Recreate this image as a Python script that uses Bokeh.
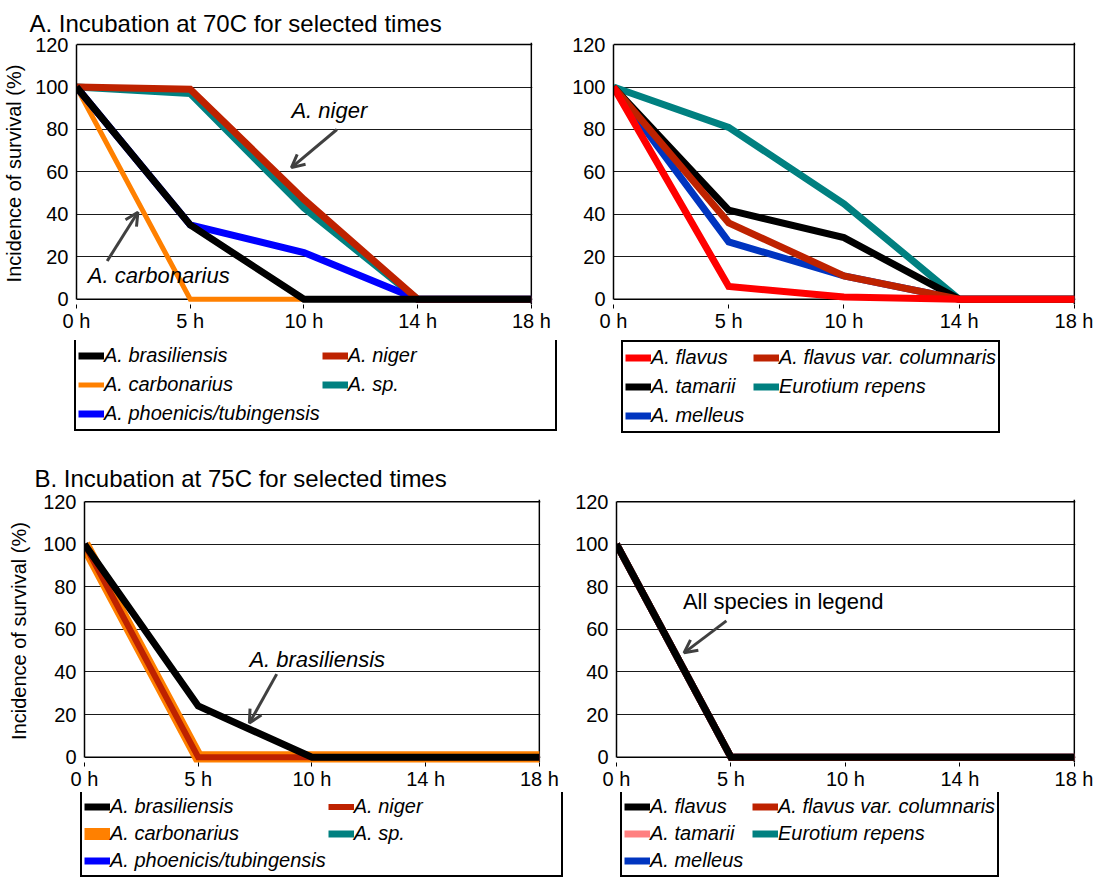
from bokeh.plotting import figure
from bokeh.models import (Range1d, FixedTicker, Span, Legend, LegendItem, Label,
                          Arrow, OpenHead)
from bokeh.layouts import column, row
from bokeh.embed import file_html
from bokeh.resources import INLINE

FONT = "Liberation Sans"

# ---------------- data ----------------
times = ["0 h", "5 h", "10 h", "14 h", "18 h"]
yticks = [0, 20, 40, 60, 80, 100, 120]
grid_ticks = [20, 40, 60, 80, 100]

# A. 70C, left panel
a70_brasiliensis = [100, 35, 0, 0, 0]
a70_niger = [100, 99, 47, 0, 0]
a70_carbonarius = [100, 0, 0, 0, 0]
a70_sp = [100, 97, 43, 0, 0]
a70_phoenicis = [100, 35, 22, 0, 0]

# A. 70C, right panel
a70_flavus = [100, 6, 1, 0, 0]
a70_columnaris = [100, 36, 11, 0, 0]
a70_tamarii = [100, 42, 29, 0, 0]
a70_eurotium = [100, 81, 45, 0, 0]
a70_melleus = [100, 27, 11, 0, 0]

# B. 75C, left panel
b75_brasiliensis = [100, 24, 0, 0, 0]
b75_niger = [100, 0, 0, 0, 0]
b75_carbonarius = [100, 0, 0, 0, 0]
b75_sp = [100, 0, 0, 0, 0]
b75_phoenicis = [100, 0, 0, 0, 0]

# B. 75C, right panel
b75_flavus = [100, 0, 0, 0, 0]
b75_columnaris = [100, 0, 0, 0, 0]
b75_tamarii = [100, 0, 0, 0, 0]
b75_eurotium = [100, 0, 0, 0, 0]
b75_melleus = [100, 0, 0, 0, 0]

# annotations: text, text x, text y, arrow start x, start y, end x, end y
note_a70_niger = ["A. niger", 1.89, 89, 2.29, 80, 1.89, 62]
note_a70_carb = ["A. carbonarius", 0.10, 11, 0.27, 18, 0.54, 41]
note_b75_bras = ["A. brasiliensis", 1.45, 46, 1.69, 39, 1.45, 16]
note_b75_all = ["All species in legend", 0.58, 73, 0.96, 64, 0.59, 49]

titles = ["A. Incubation at 70C for selected times", "B. Incubation at 75C for selected times"]
ylabel = "Incidence of survival (%)"

BLACK = "#000000"
DKRED = "#BE2200"
ORANGE = "#FF8000"
TEAL = "#008080"
BLUE = "#0000FF"
RED = "#FF0000"
MBLUE = "#0035C0"
PINK = "#FF8080"

# series per panel in drawing order: (label, values, colour, width)
series_a70_left = [("A. carbonarius", a70_carbonarius, ORANGE, 5),
                   ("A. sp.", a70_sp, TEAL, 7),
                   ("A. phoenicis/tubingensis", a70_phoenicis, BLUE, 7),
                   ("A. niger", a70_niger, DKRED, 7),
                   ("A. brasiliensis", a70_brasiliensis, BLACK, 7)]
series_a70_right = [("Eurotium repens", a70_eurotium, TEAL, 7),
                    ("A. melleus", a70_melleus, MBLUE, 7),
                    ("A. tamarii", a70_tamarii, BLACK, 7),
                    ("A. flavus var. columnaris", a70_columnaris, DKRED, 7),
                    ("A. flavus", a70_flavus, RED, 7)]
series_b75_left = [("A. sp.", b75_sp, TEAL, 7),
                   ("A. phoenicis/tubingensis", b75_phoenicis, BLUE, 7),
                   ("A. carbonarius", b75_carbonarius, ORANGE, 12),
                   ("A. niger", b75_niger, DKRED, 6),
                   ("A. brasiliensis", b75_brasiliensis, BLACK, 7)]
series_b75_right = [("Eurotium repens", b75_eurotium, TEAL, 7),
                    ("A. melleus", b75_melleus, MBLUE, 7),
                    ("A. tamarii", b75_tamarii, PINK, 7),
                    ("A. flavus var. columnaris", b75_columnaris, DKRED, 7),
                    ("A. flavus", b75_flavus, BLACK, 7)]

# legend order (legend fills column by column: 3 rows x 2 columns)
legend_left = ["A. brasiliensis", "A. carbonarius", "A. phoenicis/tubingensis",
               "A. niger", "A. sp."]
legend_right = ["A. flavus", "A. tamarii", "A. melleus",
                "A. flavus var. columnaris", "Eurotium repens"]

x_idx = list(range(len(times)))
Y_LO, Y_HI = -2.5, 121


def make_fig(x0, y0, W, H, fl, fr, y120, yzero):
    ppu = (yzero - y120) / 120.0
    ftop = y120 - ppu * (Y_HI - 120)
    fbot = yzero + ppu * (0 - Y_LO)
    p = figure(width=W, height=H,
               min_border_left=int(round(fl - x0)),
               min_border_right=int(round(x0 + W - fr)),
               min_border_top=int(round(ftop - y0)),
               min_border_bottom=int(round(y0 + H - fbot)),
               x_range=Range1d(0, 4.01), y_range=Range1d(Y_LO, Y_HI),
               output_backend="svg", toolbar_location=None)
    p.outline_line_color = None
    p.background_fill_color = "white"
    p.border_fill_color = "white"
    p.xgrid.visible = False
    p.ygrid.ticker = FixedTicker(ticks=grid_ticks)
    p.ygrid.grid_line_color = "#1a1a1a"
    p.ygrid.grid_line_width = 1
    p.title.visible = False

    xa = p.xaxis[0]
    xa.ticker = FixedTicker(ticks=x_idx)
    xa.major_label_overrides = {i: t for i, t in enumerate(times)}
    xa.axis_line_color = None
    xa.major_tick_out = 4
    xa.major_tick_in = 0
    xa.major_tick_line_color = BLACK
    xa.minor_tick_line_color = None
    xa.major_label_standoff = 1
    xa.major_label_text_font = FONT
    xa.major_label_text_font_size = "20px"
    xa.major_label_text_color = BLACK

    ya = p.yaxis[0]
    ya.ticker = FixedTicker(ticks=yticks)
    ya.bounds = (0, 120)
    ya.axis_line_color = BLACK
    ya.axis_line_width = 1.5
    ya.major_tick_out = 0
    ya.major_tick_in = 0
    ya.minor_tick_line_color = None
    ya.major_label_standoff = 8
    ya.major_label_text_font = FONT
    ya.major_label_text_font_size = "20px"
    ya.major_label_text_color = BLACK

    for loc, dim in [(120, "width"), (0, "width"), (4, "height")]:
        p.add_layout(Span(location=loc, dimension=dim, line_color=BLACK,
                          line_width=1.5, level="underlay"))
    return p


def add_title(p, text, left_px, fl, standoff):
    p.title.visible = True
    p.title.text = text
    p.title.align = "left"
    p.title.offset = left_px - fl
    p.title.text_font = FONT
    p.title.text_font_size = "24px"
    p.title.text_font_style = "normal"
    p.title.text_color = BLACK
    p.title.standoff = standoff


def add_ylabel(p, standoff):
    ya = p.yaxis[0]
    ya.axis_label = ylabel
    ya.axis_label_text_font = FONT
    ya.axis_label_text_font_size = "20px"
    ya.axis_label_text_font_style = "normal"
    ya.axis_label_text_color = BLACK
    ya.axis_label_standoff = standoff


def add_note(p, note, italic=True):
    text, tx, ty, xs, ys, xe, ye = note
    p.add_layout(Label(x=tx, y=ty, text=text, text_font=FONT, text_font_size="22px",
                       text_font_style="italic" if italic else "normal",
                       text_baseline="middle", text_align="left", text_color=BLACK))
    p.add_layout(Arrow(end=OpenHead(size=13, line_color="#404040", line_width=3),
                       x_start=xs, y_start=ys, x_end=xe, y_end=ye,
                       line_color="#404040", line_width=3))


def draw_series(p, series):
    return {name: p.line(x_idx, vals, line_color=c, line_width=w, line_join="miter")
            for name, vals, c, w in series}


def legend_fig(W, H, series, order, label_width, label_height, bx, by):
    # separate strip holding only the legend box; its line renderers sit outside
    # the visible range so only the legend swatches show
    p = figure(width=W, height=H, min_border=0,
               x_range=Range1d(0, 4), y_range=Range1d(1000, 1001),
               x_axis_location=None, y_axis_location=None,
               output_backend="svg", toolbar_location=None)
    p.grid.visible = False
    p.outline_line_color = None
    p.title.visible = False
    rs = draw_series(p, series)
    leg = Legend(items=[LegendItem(label=n, renderers=[rs[n]]) for n in order],
                 ncols=2, location=(bx, by),
                 label_text_font=FONT, label_text_font_size="20px",
                 label_text_font_style="italic", label_text_color=BLACK,
                 label_width=label_width, label_height=label_height,
                 glyph_width=26, glyph_height=label_height, label_standoff=0,
                 spacing=2, padding=2, margin=0,
                 border_line_color=BLACK, border_line_width=2, border_line_alpha=1.0,
                 background_fill_color="white", background_fill_alpha=1.0)
    p.add_layout(leg, "center")
    return p


# ---------------- A row ----------------
pA1 = make_fig(8, 8, 564, 340, 84, 540, 52, 307)
add_title(pA1, titles[0], 37, 84, 12)
add_ylabel(pA1, 7)
draw_series(pA1, series_a70_left)
add_note(pA1, note_a70_niger)
add_note(pA1, note_a70_carb)

pA2 = make_fig(572, 8, 529, 340, 621, 1083, 52, 307)
draw_series(pA2, series_a70_right)

lA1 = legend_fig(564, 100, series_a70_left, legend_left, 205, 27, 74, 9)
lA2 = legend_fig(529, 100, series_a70_right, legend_right, 100, 27, 57, 7)

# ---------------- B row ----------------
pB1 = make_fig(8, 448, 564, 352, 92, 548, 509, 765)
add_title(pB1, titles[1], 42, 92, 16)
add_ylabel(pB1, 10)
draw_series(pB1, series_b75_left)
add_note(pB1, note_b75_bras)

pB2 = make_fig(572, 448, 529, 352, 624, 1083, 509, 765)
draw_series(pB2, series_b75_right)
add_note(pB2, note_b75_all, italic=False)

lB1 = legend_fig(564, 87, series_b75_left, legend_left, 205, 25, 80, 2)
lB2 = legend_fig(529, 87, series_b75_right, legend_right, 100, 25, 56, 2)

layout = column(row(pA1, pA2, spacing=0), row(lA1, lA2, spacing=0),
                row(pB1, pB2, spacing=0), row(lB1, lB2, spacing=0), spacing=0)

open("out.html", "w").write(file_html(layout, INLINE))
